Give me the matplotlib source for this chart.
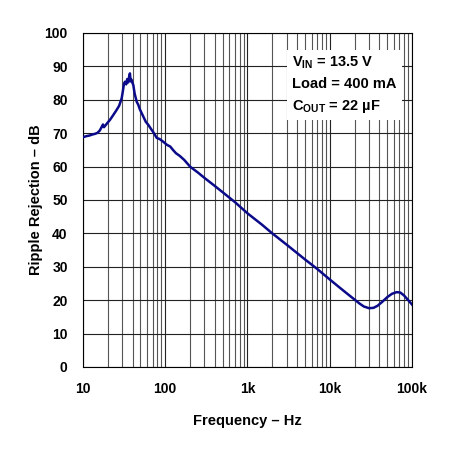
import numpy as np
import matplotlib
matplotlib.use("Agg")
import matplotlib.pyplot as plt
from matplotlib.ticker import FixedLocator, NullFormatter

plt.rcParams['font.family'] = ['Liberation Sans', 'DejaVu Sans']
plt.rcParams['font.weight'] = 'bold'
plt.rcParams['mathtext.fontset'] = 'custom'
plt.rcParams['mathtext.rm'] = 'Liberation Sans:bold'
plt.rcParams['mathtext.it'] = 'Liberation Sans:bold'
plt.rcParams['mathtext.bf'] = 'Liberation Sans:bold'

# data
freq = [10, 11, 12, 13, 14, 15, 16, 16.9, 17.5, 18, 19, 20, 21.3, 23, 25.7,
        27.5, 29.5, 30.5, 31.5, 32.4, 33.5, 34.5, 35.5, 36.3, 37.2, 38, 39,
        40, 40.9, 42.5, 45, 47, 49, 51.7, 55, 58, 62.2, 67, 72, 78.7, 86,
        95, 105, 115, 124, 135, 150, 170, 200, 250, 300, 400, 500, 700,
        1000, 1500, 2000, 3000, 5000, 7000, 10000, 13000, 16000, 20000,
        23000, 26000, 30000, 34000, 38000, 43000, 50000, 57000, 65000,
        72000, 80000, 90000, 100000]
rej_db = [68.8, 69.1, 69.3, 69.6, 69.8, 70.1, 70.8, 71.9, 72.6, 71.8, 72.5, 73.2, 74.0, 75.2, 77.0,
          78.2, 80.4, 82.5, 84.8, 85.4, 84.6, 86.2, 85.2, 86.8, 87.9, 85.5, 86.0,
          85.0, 84.4, 81.8, 79.4, 78.5, 77.2, 76.0, 74.6, 73.4, 72.5, 71.3, 70.2, 68.6, 68.2,
          67.4, 66.5, 66.0, 65.0, 64.0, 63.2, 62.0, 60.0, 58.2, 56.6, 54.2, 52.3, 49.4,
          46.0, 42.6, 40.0, 36.6, 32.2, 29.4, 26.2, 23.9, 22.1, 20.2,
          19.0, 18.1, 17.6, 17.7, 18.3, 19.4, 20.9, 21.9, 22.4,
          22.3, 21.4, 20.0, 18.7]

y_ticks = [0, 10, 20, 30, 40, 50, 60, 70, 80, 90, 100]
x_ticks = [10, 100, 1000, 10000, 100000]
x_labels = ['10', '100', '1k', '10k', '100k']

fig = plt.figure(figsize=(4.55, 4.51), dpi=100)
ax = fig.add_axes([0.1824, 0.1863, 0.7231, 0.7406])

ax.semilogx(freq, rej_db, color='#0a0a8a', lw=1.8, zorder=3)

ax.set_xlim(10, 100000)
ax.set_ylim(0, 100)
ax.set_xticks(x_ticks)
ax.set_xticklabels(x_labels)
minors = [m * 10**d for d in range(1, 5) for m in range(2, 10)]
ax.xaxis.set_minor_locator(FixedLocator(minors))
ax.xaxis.set_minor_formatter(NullFormatter())
ax.set_yticks(y_ticks)

ax.grid(which='major', color='#222222', lw=0.8)
ax.grid(which='minor', axis='x', color='#555555', lw=0.8)
ax.tick_params(which='both', length=0, labelsize=10)
ax.tick_params(axis='x', pad=11)
ax.tick_params(axis='y', pad=11)
for s in ax.spines.values():
    s.set_linewidth(0.8)

ax.set_xlabel('Frequency \u2013 Hz', fontsize=10.5, fontweight='bold', labelpad=13)
ax.set_ylabel('Ripple Rejection \u2013 dB', fontsize=10.5, fontweight='bold', labelpad=1)

# annotation box
ax.text(0.635, 0.845,
        '$\\mathregular{V_{IN}}$ = 13.5 V\nLoad = 400 mA\n$\\mathregular{C_{OUT}}$ = 22 \u00b5F',
        transform=ax.transAxes, fontsize=10.5, fontweight='bold', va='center', ha='left',
        linespacing=1.55, zorder=4,
        bbox=dict(boxstyle='square,pad=0.35', fc='white', ec='none'))

fig.savefig('out.png', dpi=100)
